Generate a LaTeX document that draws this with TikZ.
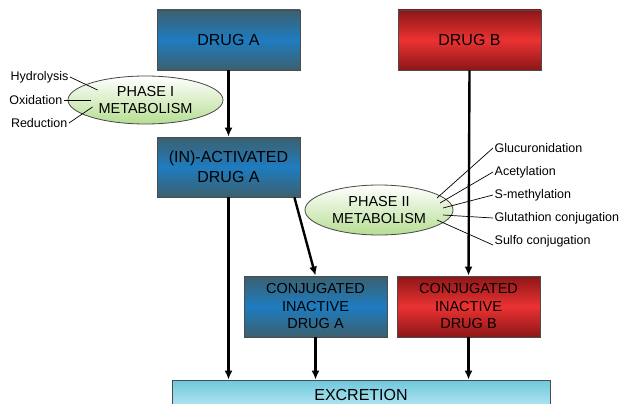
\documentclass[tikz,border=0pt]{standalone}
\usepackage{fontspec}
\setmainfont{Liberation Sans}
\usetikzlibrary{arrows.meta,shapes.geometric}
\definecolor{slateA}{RGB}{60,96,110}
\definecolor{blueA}{RGB}{30,124,192}
\definecolor{darkB}{RGB}{140,22,24}
\definecolor{redB}{RGB}{236,50,50}
\definecolor{greenE}{RGB}{182,222,146}
\definecolor{cyanT}{RGB}{110,200,218}
\definecolor{cyanL}{RGB}{188,232,246}

\begin{document}
\begin{tikzpicture}[x=1pt,y=-1pt,
  box/.style={draw=gray!60!black,line width=0.8pt,minimum width=143pt,minimum height=60pt,
    inner sep=0pt,align=center,font=\fontsize{14.5}{17.5}\selectfont},
  big/.style={font=\fontsize{16}{19.5}\selectfont},
  drugAbox/.style={box,top color=slateA,bottom color=slateA,middle color=blueA},
  drugBbox/.style={box,top color=darkB,bottom color=darkB,middle color=redB},
  phase/.style={ellipse,draw=gray!55!black,line width=0.8pt,inner sep=0pt,align=center,
    top color=white,bottom color=greenE,font=\fontsize{14.5}{17}\selectfont},
  route/.style={line width=2.4pt,-{Latex[length=9pt,width=8pt]}},
  tag/.style={font=\fontsize{12.5}{14}\selectfont,inner sep=1.5pt},
  hook/.style={line width=0.7pt}]
  % Page frame (pixel units, y downwards)
  \useasboundingbox (0,0) rectangle (627,404);
  \clip (0,0) rectangle (627,404);

  % Drug boxes
  \node[drugAbox,big] (drugA) at (228.5,40) {DRUG A};
  \node[drugBbox,big] (drugB) at (469.5,40) {DRUG B};
  \node[drugAbox,big] (act) at (228.5,167) {(IN)-ACTIVATED\\DRUG A};
  \node[drugAbox,minimum height=61pt] (conjA) at (315.5,306.5) {CONJUGATED\\INACTIVE\\DRUG A};
  \node[drugBbox,minimum height=61pt] (conjB) at (468.5,306.5) {CONJUGATED\\INACTIVE\\DRUG B};
  % Excretion (runs off the bottom edge)
  \node[box,big,minimum width=378pt,minimum height=30pt,top color=cyanT,bottom color=cyanL]
    (excr) at (361,395) {EXCRETION};

  % Metabolism ellipses
  \node[phase,minimum width=155pt,minimum height=48pt] (ph1) at (145.5,100) {PHASE I\\METABOLISM};
  \node[phase,minimum width=148pt,minimum height=50pt] (ph2) at (379,210) {PHASE II\\METABOLISM};

  % Phase I reactions
  \node[tag,anchor=east] (hyd) at (70,77) {Hydrolysis};
  \node[tag,anchor=east] (oxi) at (64,100) {Oxidation};
  \node[tag,anchor=east] (red) at (69,123) {Reduction};
  % Phase II reactions
  \node[tag,anchor=west] (glu) at (493,148) {Glucuronidation};
  \node[tag,anchor=west] (ace) at (493,172) {Acetylation};
  \node[tag,anchor=west] (sme) at (493,195) {S-methylation};
  \node[tag,anchor=west] (glt) at (493,218) {Glutathion conjugation};
  \node[tag,anchor=west] (sul) at (493,241) {Sulfo conjugation};

  % Main routes
  \draw[route] (drugA) -- (act);
  \draw[route] (act.south) -- (act.south |- excr.north);
  \draw[route] ([xshift=-6pt]act.south east) -- (conjA.north);
  \draw[route] (drugB.south) -- (conjB.north);
  \draw[route] (conjA) -- (conjA |- excr.north);
  \draw[route] (conjB) -- (conjB |- excr.north);

  % Reaction leaders
  \draw[hook] (hyd.east) -- ([shift={(-48,-10)}]ph1.center);
  \draw[hook] (oxi.east) -- ([shift={(-55,0)}]ph1.center);
  \draw[hook] (red.east) -- ([shift={(-53,7)}]ph1.center);
  \draw[hook] (glu.west) -- ([shift={(58,-12)}]ph2.center);
  \draw[hook] (ace.west) -- ([shift={(61,-7)}]ph2.center);
  \draw[hook] (sme.west) -- ([shift={(64,-2)}]ph2.center);
  \draw[hook] (glt.west) -- ([shift={(64,5)}]ph2.center);
  \draw[hook] ([yshift=-4pt]sul.west) -- ([shift={(58,10)}]ph2.center);
\end{tikzpicture}
\end{document}
